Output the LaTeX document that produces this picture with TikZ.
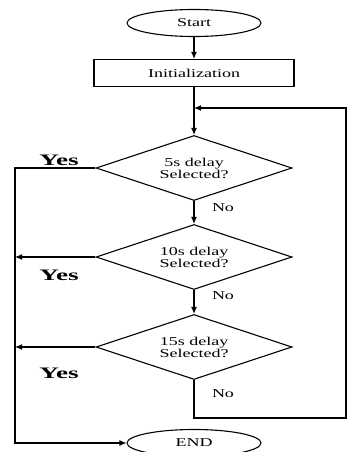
\documentclass[tikz,border=0pt]{standalone}
\usepackage{fontspec}
\setmainfont[FakeStretch=1.5]{Liberation Serif}
\newfontfamily\yesfont[FakeStretch=1.7]{Liberation Serif}
\usepackage{tikz}
\usetikzlibrary{shapes.geometric}
\usetikzlibrary{arrows.meta}

\begin{document}
\begin{tikzpicture}[x=1pt, y=-1pt, line width=1.1pt,
		box/.style={draw, rectangle, minimum width=200pt, minimum height=27pt, inner sep=0pt},
		term/.style={draw, ellipse, minimum width=134pt, minimum height=27pt, inner sep=0pt},
		test/.style={draw, diamond, aspect=3, minimum width=196pt, minimum height=65pt, inner sep=0pt, align=center},
		arr/.style={-{Latex[length=7pt,width=6pt]}},
		yes/.style={font=\yesfont\bfseries\fontsize{16}{16}\selectfont},
		no/.style={font=\fontsize{12}{12}\selectfont},
		every node/.append style={font=\fontsize{12}{12}\selectfont}]
			\useasboundingbox (0,0) rectangle (348,452);
			% Blocks
			\node[term] (start) at (194,23) {Start};
			\node[box] (init) at (194,73) {Initialization};
			\coordinate (loop) at (194,108);
			\node[test] (dfive) at (194,168) {5s delay\\Selected?};
			\node[test] (dten) at (194,257) {10s delay\\Selected?};
			\node[test] (dfifteen) at (194,347) {15s delay\\Selected?};
			\node[term] (finish) at (194,443) {END};

			% Corners of the outer lines
			\coordinate (ltop) at (15,168);
			\coordinate (dbot) at (194,418);
			\coordinate (rbot) at (346,418);
			\coordinate (rtop) at (346,108);

			% Main flow
			\draw[arr] (start) -- (init);
			\draw (init) -- (loop);
			\draw[arr] (loop) -- (dfive);
			\draw[arr] (dfive) -- (dten);
			\draw[arr] (dten) -- (dfifteen);

			% Yes branches
			\draw[arr] (dfive.west) -- (ltop) |- (finish.west);
			\draw[arr] (dten.west) -- (dten.west -| ltop);
			\draw[arr] (dfifteen.west) -- (dfifteen.west -| ltop);

			% No from the last test goes back up
			\draw[arr] (dfifteen.south) -- (dbot) -- (rbot) -- (rtop) -- (loop);

			% Labels
			\node[yes] (yone) at (59,160) {Yes};
			\node[yes] (ytwo) at (59,275) {Yes};
			\node[yes] (ythree) at (59,373) {Yes};
			\node[no] (none) at (223,208) {No};
			\node[no] (ntwo) at (223,296) {No};
			\node[no] (nthree) at (223,394) {No};
		\end{tikzpicture}
\end{document}
